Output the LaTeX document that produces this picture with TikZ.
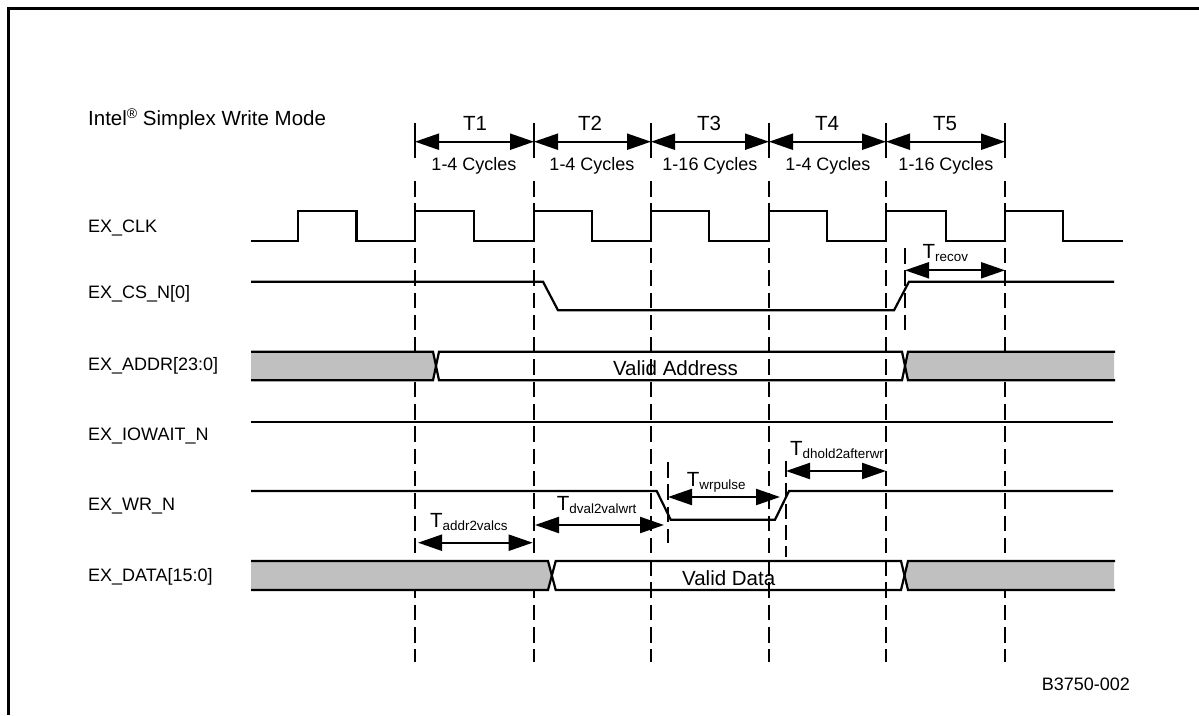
\documentclass[tikz,border=0pt]{standalone}
\usepackage{fontspec}
\setmainfont{Liberation Sans}
\usepackage{xcolor}
\usetikzlibrary{arrows.meta}
\definecolor{ink}{HTML}{000000}
\definecolor{bus}{HTML}{C0C0C0}
\newcommand{\sizeA}{\fontsize{18}{20}\selectfont}
\newcommand{\sizeB}{\fontsize{20.5}{23}\selectfont}
\newcommand{\tsub}[1]{T\raisebox{-3pt}{\fontsize{13.4}{15}\selectfont #1}}
\tikzset{
  frameline/.style={line width=2.5pt, draw=ink},
  wave/.style={line width=2.2pt, draw=ink, line join=miter},
  tick/.style={line width=1.8pt, draw=ink},
  grid/.style={line width=2.2pt, draw=ink, dash pattern=on 15.5pt off 6.8pt},
  span/.style={line width=2.2pt, draw=ink, {Triangle[length=24pt,width=16pt]}-{Triangle[length=24pt,width=16pt]}},
  sig/.style={anchor=base west, text=ink, font=\sizeA, inner sep=0pt},
  lab/.style={anchor=base, text=ink, font=\sizeA},
  tim/.style={anchor=base west, text=ink, font=\sizeB, inner sep=0pt},
}

\begin{document}
\begin{tikzpicture}[x=1pt,y=-1pt]
  \useasboundingbox (0,0) rectangle (1199,715);
  \draw[frameline] (8.3,715) -- (8.3,8.7) -- (1199,8.7);

  % phase boundaries
  \foreach \nm/\px in {a/415,b/534,c/651,d/769,e/886,f/1005}{
    \draw[tick] (\px,123.3) -- (\px,158.3);
    \draw[grid] (\px,181) -- (\px,662);
    \coordinate (\nm) at (\px,141.7);
  }

  % extra edge markers
  \draw[grid] (905,248) -- (905,330);
  \draw[grid] (667.7,462) -- (667.7,543);
  \draw[tick] (785.7,461) -- (785.7,477);
  \draw[line width=1.6pt, draw=ink, dash pattern=on 15pt off 6pt] (785.7,483) -- (785.7,557);

  % bus fill
  \fill[bus] (251,351.7) -- (433,351.7) -- (437,366) -- (433,380.3) -- (251,380.3) -- cycle;
  \fill[bus] (1114,351.7) -- (908,351.7) -- (904,366) -- (908,380.3) -- (1114,380.3) -- cycle;
  \fill[bus] (251,561) -- (548,561) -- (552,575.5) -- (548,590) -- (251,590) -- cycle;
  \fill[bus] (1114,561) -- (908,561) -- (904,575.5) -- (908,590) -- (1114,590) -- cycle;

  % clock
  \draw[wave] (251,240.7) -- (298,240.7) -- (298,211.3) -- (356.5,211.3) -- (356.5,240.7)
    -- (415,240.7) -- (415,211.3) -- (474,211.3) -- (474,240.7)
    -- (534,240.7) -- (534,211.3) -- (592,211.3) -- (592,240.7)
    -- (651,240.7) -- (651,211.3) -- (709,211.3) -- (709,240.7)
    -- (769,240.7) -- (769,211.3) -- (827,211.3) -- (827,240.7)
    -- (886,240.7) -- (886,211.3) -- (946,211.3) -- (946,240.7)
    -- (1005,240.7) -- (1005,211.3) -- (1063,211.3) -- (1063,240.7) -- (1122.5,240.7);

  % chip select, iowait, write
  \draw[wave] (251,281.7) -- (543,281.7) -- (558,310.3) -- (894,310.3) -- (909,281.7) -- (1114,281.7);
  \draw[wave] (251,421.7) -- (1113,421.7);
  \draw[wave] (251,491) -- (656.7,491) -- (670.7,519.7) -- (775,519.7) -- (789,491) -- (1113,491);

  % address bus
  \draw[wave] (251,351.7) -- (433,351.7) -- (439,380.3) -- (902,380.3) -- (908,351.7) -- (1115,351.7);
  \draw[wave] (251,380.3) -- (433,380.3) -- (439,351.7) -- (902,351.7) -- (908,380.3) -- (1115,380.3);
  % data bus
  \draw[wave] (251,561) -- (548,561) -- (555.7,590) -- (901,590) -- (908,561) -- (1115,561);
  \draw[wave] (251,590) -- (548,590) -- (555.7,561) -- (901,561) -- (908,590) -- (1115,590);

  % cycle spans
  \draw[span] (a) -- (b);
  \draw[span] (b) -- (c);
  \draw[span] (c) -- (d);
  \draw[span] (d) -- (e);
  \draw[span] (e) -- (f);

  \node[lab, font=\sizeB] (t1) at (475,130) {T1};
  \node[lab, font=\sizeB] (t2) at (590,130) {T2};
  \node[lab, font=\sizeB] (t3) at (709,130) {T3};
  \node[lab, font=\sizeB] (t4) at (827,130) {T4};
  \node[lab, font=\sizeB] (t5) at (945,130) {T5};
  \node[lab] (c1) at (474,170) {1-4 Cycles};
  \node[lab] (c2) at (592,170) {1-4 Cycles};
  \node[lab] (c3) at (710,170) {1-16 Cycles};
  \node[lab] (c4) at (828,170) {1-4 Cycles};
  \node[lab] (c5) at (946,170) {1-16 Cycles};

  % timing spans
  \coordinate (addrL) at (418,542.7);
  \coordinate (addrR) at (532.7,542.7);
  \coordinate (dvalL) at (535,525);
  \coordinate (dvalR) at (664,525);
  \coordinate (wrpL) at (668,497);
  \coordinate (wrpR) at (780,497);
  \coordinate (holdL) at (786,471);
  \coordinate (holdR) at (886,471);
  \coordinate (recL) at (905,270.3);
  \coordinate (recR) at (1005,270.3);
  \draw[span] (addrL) -- (addrR);
  \draw[span] (dvalL) -- (dvalR);
  \draw[span] (wrpL) -- (wrpR);
  \draw[span] (holdL) -- (holdR);
  \draw[span] (recL) -- (recR);

  \node[tim] (taddr) at (430,527.3) {\tsub{addr2valcs}};
  \node[tim] (tdval) at (556.7,510) {\tsub{dval2valwrt}};
  \node[tim] (twr) at (686.7,486) {\tsub{wrpulse}};
  \node[tim] (thold) at (790,455) {\tsub{dhold2afterwr}};
  \node[tim] (trec) at (922.5,258.3) {\tsub{recov}};

  % signal names
  \node[tim] (title) at (88,125) {Intel\raisebox{7pt}{\fontsize{14}{15}\selectfont ®} Simplex Write Mode};
  \node[sig] (clk) at (88,232.7) {EX\_CLK};
  \node[sig] (cs) at (88,298.3) {EX\_CS\_N[0]};
  \node[sig] (addr) at (88,370.7) {EX\_ADDR[23:0]};
  \node[sig] (iow) at (88,440) {EX\_IOWAIT\_N};
  \node[sig] (wr) at (88,510) {EX\_WR\_N};
  \node[sig] (data) at (88,581) {EX\_DATA[15:0]};

  \node[anchor=base, font=\sizeB] (vaddr) at (675.5,375) {Valid Address};
  \node[anchor=base, font=\sizeB] (vdata) at (728.7,585) {Valid Data};
  \node[sig] (code) at (1041.7,690) {B3750-002};
\end{tikzpicture}
\end{document}
